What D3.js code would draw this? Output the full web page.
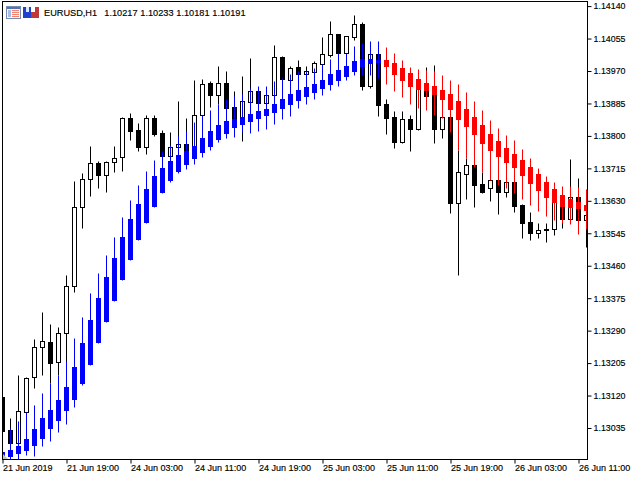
<!DOCTYPE html>
<html>
<head>
<meta charset="utf-8">
<script src="https://cdnjs.cloudflare.com/ajax/libs/d3/7.8.5/d3.min.js"></script>
<style>
html, body { margin: 0; padding: 0; background: #fff; }
text { font-family: "Liberation Sans", Arial, sans-serif; fill: #000; stroke: #000; stroke-width: 0.15px; }
</style>
</head>
<body>
<div id="chart"></div>
<script>
const title = ["EURUSD,H1", "1.10217", "1.10233", "1.10181", "1.10191"];
const priceTicks = [1.14140, 1.14055, 1.13970, 1.13885, 1.13800, 1.13715, 1.13630, 1.13545, 1.13460, 1.13375, 1.13290, 1.13205, 1.13120, 1.13035];
const timeTicks = ["21 Jun 2019", "21 Jun 19:00", "24 Jun 03:00", "24 Jun 11:00", "24 Jun 19:00", "25 Jun 03:00", "25 Jun 11:00", "25 Jun 19:00", "26 Jun 03:00", "26 Jun 11:00"];

// price candles
const open = [1.13117,1.13030,1.12996,1.13077,1.13169,1.13248,1.13261,1.13208,1.13284,1.13407,
  1.13614,1.13687,1.13729,1.13698,1.13732,1.13745,1.13847,1.13816,1.13771,1.13847,
  1.13808,1.13747,1.13771,1.13779,1.13773,1.13855,1.13939,1.13907,1.13939,1.13876,
  1.13850,1.13889,1.13918,1.13886,1.13907,1.14007,1.13947,1.13981,1.13962,1.13967,
  1.13988,1.14012,1.14067,1.14017,1.14059,1.14093,1.13931,1.14015,1.13884,1.13850,
  1.13784,1.13844,1.13818,1.13920,1.13907,1.13818,1.13850,1.13624,1.13700,1.13724,
  1.13674,1.13664,1.13685,1.13653,1.13679,1.13619,1.13575,1.13546,1.13554,1.13556,
  1.13619,1.13583,1.13640,1.13580];
const high = [1.13135,1.13061,1.13174,1.13169,1.13268,1.13339,1.13308,1.13300,1.13436,1.13682,
  1.13703,1.13773,1.13734,1.13734,1.13773,1.13850,1.13860,1.13834,1.13855,1.13855,
  1.13816,1.13810,1.13892,1.13847,1.13947,1.13949,1.13944,1.13983,1.13970,1.13918,
  1.13957,1.14004,1.13918,1.13912,1.14038,1.14009,1.13983,1.13999,1.13983,1.13996,
  1.14059,1.14101,1.14067,1.14062,1.14117,1.14098,1.14020,1.14020,1.13897,1.13865,
  1.13865,1.13855,1.13933,1.13981,1.13986,1.13881,1.13863,1.13763,1.13742,1.13729,
  1.13706,1.13690,1.13695,1.13690,1.13685,1.13622,1.13601,1.13572,1.13572,1.13645,
  1.13632,1.13740,1.13690,1.13619];
const low = [1.13004,1.12973,1.12988,1.13069,1.13140,1.13174,1.13153,1.13174,1.13208,1.13392,
  1.13559,1.13642,1.13664,1.13653,1.13706,1.13708,1.13789,1.13760,1.13752,1.13800,
  1.13737,1.13742,1.13763,1.13755,1.13768,1.13847,1.13876,1.13884,1.13863,1.13837,
  1.13787,1.13881,1.13876,1.13878,1.13902,1.13941,1.13939,1.13954,1.13954,1.13962,
  1.13983,1.14007,1.14012,1.14009,1.14051,1.13920,1.13926,1.13852,1.13805,1.13768,
  1.13781,1.13760,1.13816,1.13899,1.13781,1.13795,1.13598,1.13436,1.13635,1.13614,
  1.13651,1.13630,1.13596,1.13640,1.13601,1.13533,1.13528,1.13533,1.13522,1.13541,
  1.13559,1.13575,1.13575,1.13509];
const close = [1.13027,1.12996,1.13079,1.13166,1.13248,1.13263,1.13205,1.13284,1.13407,1.13614,
  1.13687,1.13729,1.13698,1.13732,1.13742,1.13847,1.13813,1.13771,1.13847,1.13805,
  1.13747,1.13771,1.13779,1.13760,1.13855,1.13936,1.13907,1.13939,1.13873,1.13844,
  1.13892,1.13918,1.13886,1.13907,1.14007,1.13949,1.13978,1.13962,1.13970,1.13991,
  1.14015,1.14067,1.14017,1.14062,1.14093,1.13931,1.14015,1.13881,1.13847,1.13784,
  1.13844,1.13818,1.13923,1.13905,1.13818,1.13850,1.13624,1.13706,1.13724,1.13672,
  1.13653,1.13685,1.13653,1.13679,1.13617,1.13572,1.13546,1.13554,1.13556,1.13630,
  1.13583,1.13640,1.13580,1.13593];

// smoothed indicator candles, blue while rising, red while falling
const smoothOpen = [1.12959,1.12962,1.12970,1.12978,1.12991,1.13009,1.13035,1.13056,1.13082,1.13111,
  1.13153,1.13203,1.13261,1.13315,1.13370,1.13425,1.13478,1.13530,1.13575,1.13617,
  1.13653,1.13685,1.13708,1.13726,1.13742,1.13758,1.13773,1.13792,1.13808,1.13823,
  1.13831,1.13839,1.13847,1.13855,1.13863,1.13873,1.13884,1.13894,1.13905,1.13915,
  1.13926,1.13936,1.13947,1.13957,1.13970,1.13983,1.13991,1.13994,1.13999,1.13991,
  1.13978,1.13965,1.13949,1.13939,1.13931,1.13920,1.13910,1.13892,1.13871,1.13850,
  1.13829,1.13805,1.13787,1.13768,1.13752,1.13737,1.13719,1.13700,1.13679,1.13661,
  1.13645,1.13635,1.13627,1.13619];
const smoothHigh = [1.12983,1.13035,1.13054,1.13077,1.13096,1.13127,1.13153,1.13174,1.13211,1.13271,
  1.13326,1.13389,1.13441,1.13488,1.13535,1.13588,1.13632,1.13672,1.13708,1.13737,
  1.13760,1.13776,1.13800,1.13813,1.13837,1.13855,1.13868,1.13884,1.13897,1.13905,
  1.13910,1.13926,1.13931,1.13931,1.13944,1.13952,1.13962,1.13970,1.13970,1.13978,
  1.13988,1.14001,1.14017,1.14017,1.14036,1.14043,1.14049,1.14049,1.14033,1.14017,
  1.13999,1.13981,1.13975,1.13973,1.13970,1.13960,1.13947,1.13936,1.13915,1.13892,
  1.13868,1.13842,1.13821,1.13802,1.13789,1.13766,1.13742,1.13716,1.13695,1.13679,
  1.13669,1.13669,1.13666,1.13661];
const smoothLow = [1.12951,1.12951,1.12951,1.12965,1.12962,1.12988,1.13001,1.13025,1.13046,1.13090,
  1.13148,1.13200,1.13258,1.13313,1.13368,1.13423,1.13475,1.13528,1.13572,1.13614,
  1.13651,1.13679,1.13703,1.13713,1.13726,1.13745,1.13763,1.13784,1.13795,1.13797,
  1.13810,1.13808,1.13813,1.13818,1.13831,1.13844,1.13852,1.13873,1.13884,1.13897,
  1.13907,1.13920,1.13931,1.13947,1.13960,1.13960,1.13960,1.13952,1.13936,1.13918,
  1.13902,1.13884,1.13873,1.13868,1.13855,1.13847,1.13810,1.13763,1.13742,1.13719,
  1.13706,1.13685,1.13672,1.13664,1.13651,1.13635,1.13619,1.13603,1.13590,1.13580,
  1.13572,1.13570,1.13543,1.13556];
const smoothClose = [1.12973,1.12978,1.12988,1.13006,1.13033,1.13061,1.13082,1.13109,1.13143,1.13195,
  1.13258,1.13318,1.13376,1.13431,1.13480,1.13535,1.13583,1.13622,1.13661,1.13695,
  1.13716,1.13734,1.13750,1.13760,1.13773,1.13795,1.13813,1.13829,1.13839,1.13844,
  1.13850,1.13858,1.13865,1.13871,1.13884,1.13897,1.13910,1.13920,1.13928,1.13936,
  1.13947,1.13962,1.13973,1.13983,1.13996,1.14001,1.14001,1.13999,1.13983,1.13962,
  1.13947,1.13931,1.13923,1.13920,1.13910,1.13897,1.13871,1.13844,1.13826,1.13805,
  1.13781,1.13763,1.13747,1.13732,1.13719,1.13698,1.13677,1.13658,1.13640,1.13627,
  1.13617,1.13614,1.13611,1.13606];

const width = 640, height = 480;
const plot = {left: 2.5, right: 587.5, top: 1.5, bottom: 459.5};

const svg = d3.select("#chart").append("svg")
  .attr("width", width)
  .attr("height", height)
  .style("display", "block");

const x = d3.scaleLinear().domain([0, 73]).range([2.5, 586.5]);
const y = d3.scaleLinear().domain([1.13035, 1.14140]).range([428, 6.1]);

svg.append("defs").append("clipPath").attr("id", "plot")
  .append("rect")
  .attr("x", plot.left).attr("y", plot.top)
  .attr("width", plot.right - plot.left).attr("height", plot.bottom - plot.top);

const px = v => Math.round(y(v)) + 0.5;

function drawCandles(g, o, h, l, c, strokeFn, fillFn) {
  const idx = d3.range(o.length);
  g.selectAll("line").data(idx).enter().append("line")
    .attr("x1", i => x(i)).attr("x2", i => x(i))
    .attr("y1", i => px(h[i])).attr("y2", i => px(l[i]))
    .attr("stroke", strokeFn);
  g.selectAll("rect").data(idx).enter().append("rect")
    .attr("x", i => x(i) - 2)
    .attr("width", 4)
    .attr("y", i => px(Math.max(o[i], c[i])))
    .attr("height", i => px(Math.min(o[i], c[i])) - px(Math.max(o[i], c[i])))
    .attr("fill", fillFn)
    .attr("stroke", strokeFn);
}

const chart = svg.append("g").attr("clip-path", "url(#plot)");

drawCandles(chart.append("g"), open, high, low, close,
  () => "#000",
  i => close[i] >= open[i] ? "#fff" : "#000");

const smoothColor = i => smoothClose[i] >= smoothOpen[i] ? "#0000ff" : "#ff0000";
drawCandles(chart.append("g"), smoothOpen, smoothHigh, smoothLow, smoothClose, smoothColor, smoothColor);

// little marker in the corner of the plot
svg.append("path").attr("d", "M3,454L8,459L3,459Z").attr("fill", "#c0c0c0");

// frame
svg.append("rect")
  .attr("x", plot.left).attr("y", plot.top)
  .attr("width", plot.right - plot.left).attr("height", plot.bottom - plot.top)
  .attr("fill", "none").attr("stroke", "#000");

// price axis
const yAxis = d3.axisRight(y).tickValues(priceTicks).tickFormat(d3.format(".5f")).tickSize(4).tickPadding(2);
const yG = svg.append("g").attr("transform", `translate(${plot.right},0)`).call(yAxis);
yG.select(".domain").remove();
yG.selectAll("line").attr("stroke", "#000");
yG.selectAll("text").style("font-size", "8.85px").style("font-family", '"Liberation Sans"');

// time axis
const xAxis = d3.axisBottom(x)
  .tickValues(d3.range(0, 73, 8))
  .tickFormat((d, i) => timeTicks[i])
  .tickSize(4).tickPadding(0);
const xG = svg.append("g").attr("transform", `translate(0,${plot.bottom})`).call(xAxis);
xG.select(".domain").remove();
xG.selectAll("line").attr("stroke", "#000");
xG.selectAll("text")
  .attr("text-anchor", "start")
  .attr("dy", "0.8em")
  .style("font-size", "9px")
  .style("font-family", '"Liberation Sans"');

// header icons
const icons = svg.append("g");
icons.append("rect").attr("x", 6.5).attr("y", 6.5).attr("width", 14).attr("height", 12).attr("fill", "#f4f6fb").attr("stroke", "#7a8db0");
icons.append("rect").attr("x", 7).attr("y", 7).attr("width", 13).attr("height", 2).attr("fill", "#4f74b8");
icons.append("rect").attr("x", 8).attr("y", 10).attr("width", 3).attr("height", 7).attr("fill", "#a8bde6");
[10, 12, 14, 16].forEach(r => {
  icons.append("rect").attr("x", 12).attr("y", r).attr("width", 7).attr("height", 1).attr("fill", "#f0806f");
});
icons.append("rect").attr("x", 23).attr("y", 7).attr("width", 8).attr("height", 11).attr("fill", "#2040d0");
icons.append("rect").attr("x", 31).attr("y", 7).attr("width", 8).attr("height", 11).attr("fill", "#c03838");
icons.append("rect").attr("x", 26).attr("y", 7).attr("width", 3).attr("height", 5).attr("fill", "#dfe6fa");
icons.append("rect").attr("x", 31).attr("y", 7).attr("width", 4).attr("height", 5).attr("fill", "#fff");

// header text
const titleX = [44, 104.3, 140.3, 176.3, 212.3];
svg.append("g").selectAll("text").data(title).enter().append("text")
  .attr("x", (d, i) => titleX[i])
  .attr("y", 15.5)
  .style("font-size", "9.2px")
  .text(d => d);
</script>
</body>
</html>
